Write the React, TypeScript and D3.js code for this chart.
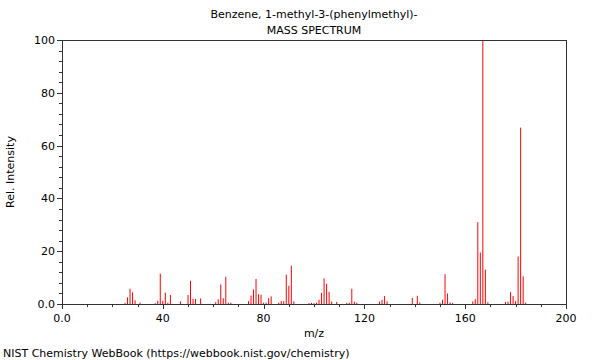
import React from "react";
import * as d3 from "d3";

const title = "Benzene, 1-methyl-3-(phenylmethyl)-";
const subtitle = "MASS SPECTRUM";
const xLabel = "m/z";
const yLabel = "Rel. Intensity";
const footer = "NIST Chemistry WebBook (https://webbook.nist.gov/chemistry)";

const mz = [25, 26, 27, 28, 29, 31, 37, 38, 39, 40, 41, 42, 43, 47, 50, 51, 52, 53, 55, 61, 62, 63, 64, 65, 66, 67, 74, 75, 76, 77, 78, 79, 80, 81, 82, 83, 86, 87, 88, 89, 90, 91, 92, 98, 99, 100, 101, 102, 103, 104, 105, 106, 107, 109, 113, 114, 115, 116, 117, 126, 127, 128, 129, 139, 141, 142, 150, 151, 152, 153, 154, 155, 163, 164, 165, 166, 167, 168, 169, 176, 177, 178, 179, 180, 181, 182, 183, 184];
const intensity = [0.4, 2.5, 5.8, 4.4, 1.4, 0.5, 0.3, 1.2, 11.5, 1.2, 4.3, 0.5, 3.4, 1.0, 3.4, 8.8, 1.9, 1.9, 2.1, 0.7, 1.8, 7.4, 2.2, 10.3, 0.5, 0.5, 1.1, 3.2, 5.5, 9.5, 3.7, 3.5, 0.5, 0.5, 2.2, 2.9, 0.5, 1.1, 1.1, 11.1, 6.9, 14.5, 1.0, 0.3, 0.4, 0.3, 0.5, 1.6, 4.2, 9.7, 7.7, 4.6, 0.9, 0.8, 0.4, 0.5, 5.8, 0.9, 0.5, 0.9, 1.6, 3.0, 1.0, 2.3, 3.1, 0.6, 0.5, 1.6, 11.3, 4.0, 0.6, 0.4, 1.0, 1.8, 31.0, 19.5, 100, 13.0, 0.7, 0.8, 0.9, 4.5, 3.0, 1.1, 18.0, 66.8, 10.5, 0.5];

const xMajor = [0, 40, 80, 120, 160, 200];
const xMajorLabels = ["0.0", "40", "80", "120", "160", "200"];
const yMajor = [0, 20, 40, 60, 80, 100];
const yMajorLabels = ["0.0", "20", "40", "60", "80", "100"];

export default function App() {
  const W = 600, H = 360;
  const m = { left: 62, right: 34, top: 40, bottom: 56 };
  const x = d3.scaleLinear().domain([0, 200]).range([m.left, W - m.right]);
  const y = d3.scaleLinear().domain([0, 100]).range([H - m.bottom, m.top]);
  const xMinor = d3.range(0, 201, 10).filter((v) => v % 40 !== 0);
  const yMinor = d3.range(0, 101, 4).filter((v) => v % 20 !== 0);
  const font = "DejaVu Sans, sans-serif";
  const axisColor = "#333";
  const x0 = m.left, x1 = W - m.right, y0 = H - m.bottom, y1 = m.top;

  return (
    <svg width={W} height={H} style={{ position: "absolute", left: 0, top: 0, background: "#fff" }} fontFamily={font}>
      <rect x={0} y={0} width={W} height={H} fill="#fff" />
      <text x={(x0 + x1) / 2} y={18} textAnchor="middle" fontSize={11} fill="#000">{title}</text>
      <text x={(x0 + x1) / 2} y={34} textAnchor="middle" fontSize={11} fill="#000">{subtitle}</text>
      {mz.map((v, i) => (
        <line key={i} x1={x(v)} x2={x(v)} y1={y(0)} y2={y(intensity[i])} stroke="#ff0000" strokeWidth={1} />
      ))}
      <line x1={x0} x2={x1} y1={y1 + 0.5} y2={y1 + 0.5} stroke={axisColor} />
      <line x1={x1 + 0.5} x2={x1 + 0.5} y1={y1} y2={y0} stroke={axisColor} />
      <line x1={x0} x2={x1 + 1} y1={y0 + 0.5} y2={y0 + 0.5} stroke={axisColor} />
      <line x1={x0 + 0.5} x2={x0 + 0.5} y1={y1} y2={y0 + 1} stroke={axisColor} />
      {xMajor.map((v, i) => (
        <g key={"xm" + i}>
          <line x1={Math.round(x(v)) + 0.5} x2={Math.round(x(v)) + 0.5} y1={y0} y2={y0 + 5} stroke={axisColor} />
          <text x={x(v)} y={y0 + 18} textAnchor="middle" fontSize={11} fill="#000">{xMajorLabels[i]}</text>
        </g>
      ))}
      {xMinor.map((v, i) => (
        <line key={"xn" + i} x1={Math.round(x(v)) + 0.5} x2={Math.round(x(v)) + 0.5} y1={y0} y2={y0 + 3} stroke={axisColor} />
      ))}
      {yMajor.map((v, i) => (
        <g key={"ym" + i}>
          <line x1={x0 - 5} x2={x0} y1={Math.round(y(v)) + 0.5} y2={Math.round(y(v)) + 0.5} stroke={axisColor} />
          <text x={x0 - 7} y={y(v) + 4} textAnchor="end" fontSize={11} fill="#000">{yMajorLabels[i]}</text>
        </g>
      ))}
      {yMinor.map((v, i) => (
        <line key={"yn" + i} x1={x0 - 3} x2={x0} y1={Math.round(y(v)) + 0.5} y2={Math.round(y(v)) + 0.5} stroke={axisColor} />
      ))}
      <text x={(x0 + x1) / 2} y={337} textAnchor="middle" fontSize={11} fill="#000">{xLabel}</text>
      <text transform={`translate(14, ${(y0 + y1) / 2}) rotate(-90)`} textAnchor="middle" fontSize={11} fill="#000">{yLabel}</text>
      <text x={3} y={357} fontSize={11} fill="#000">{footer}</text>
    </svg>
  );
}
